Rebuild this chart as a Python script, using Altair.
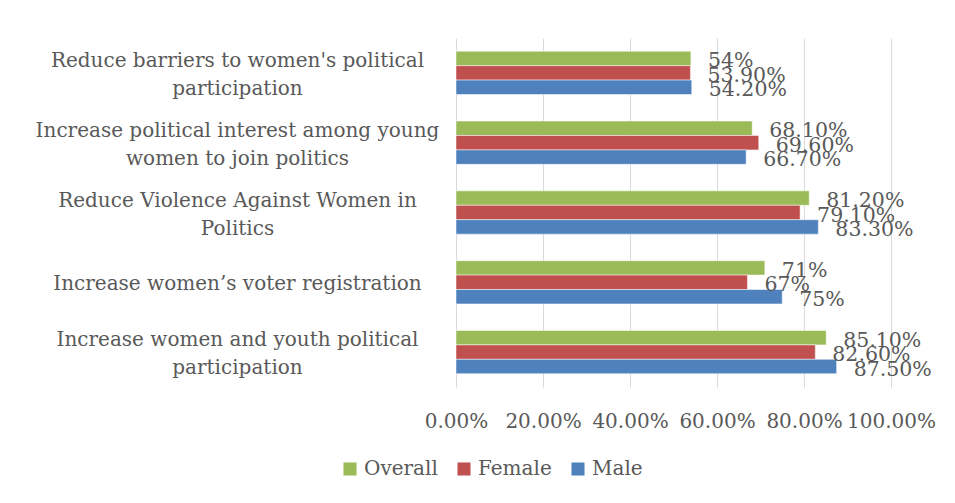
import altair as alt
import pandas as pd

categories = [
    "Reduce barriers to women's political|participation",
    "Increase political interest among young|women to join politics",
    "Reduce Violence Against Women in|Politics",
    "Increase women\u2019s voter registration",
    "Increase women and youth political|participation",
]
series = ["Overall", "Female", "Male"]
overall = [54, 68.1, 81.2, 71, 85.1]
female = [53.9, 69.6, 79.1, 67, 82.6]
male = [54.2, 66.7, 83.3, 75, 87.5]
colors = ["#9BBB59", "#C0504D", "#4F81BD"]
x_ticks = [0, 0.2, 0.4, 0.6, 0.8, 1.0]

rows = []
for s, vals in zip(series, [overall, female, male]):
    for c, v in zip(categories, vals):
        lab = f"{int(v)}%" if float(v).is_integer() else f"{v:.2f}%"
        rows.append({"category": c, "series": s, "value": v / 100, "label": lab})
df = pd.DataFrame(rows)

FONT = "DejaVu Serif"
GREY = "#595959"

base = alt.Chart(df).encode(
    y=alt.Y(
        "category:N",
        sort=categories,
        scale=alt.Scale(paddingInner=0.38, paddingOuter=0.19),
        axis=alt.Axis(
            title=None,
            domain=False,
            ticks=False,
            labelExpr="split(datum.label, '|')",
            labelLineHeight=28,
            labelFont=FONT,
            labelFontSize=20,
            labelColor=GREY,
            labelAlign="center",
            labelBaseline="middle",
            labelPadding=219,
            labelLimit=0,
            labelOffset={
                "condition": {"test": "indexof(datum.value, '|') >= 0", "value": -12},
                "value": 2,
            },
        ),
    ),
    yOffset=alt.YOffset("series:N", sort=series, scale=alt.Scale(paddingInner=0, paddingOuter=0)),
)

bars = base.mark_bar(stroke="white", strokeWidth=0.5).encode(
    x=alt.X(
        "value:Q",
        scale=alt.Scale(domain=[0, 1], nice=False),
        axis=alt.Axis(
            title=None,
            values=x_ticks,
            format=".2%",
            domain=False,
            ticks=False,
            gridColor="#D9D9D9",
            labelFont=FONT,
            labelFontSize=20,
            labelColor=GREY,
            labelPadding=24,
            labelFlush=False,
        ),
    ),
    color=alt.Color(
        "series:N",
        sort=series,
        scale=alt.Scale(domain=series, range=colors),
        legend=alt.Legend(
            title=None,
            orient="none",
            direction="horizontal",
            legendX=-116,
            legendY=421,
            symbolType="square",
            symbolSize=170,
            symbolStrokeWidth=0,
            labelFont=FONT,
            labelFontSize=20,
            labelColor=GREY,
            columnPadding=16,
            labelOffset=4,
        ),
    ),
)

texts = base.mark_text(
    align="left", baseline="middle", dx=17, dy=3, font=FONT, fontSize=20.5, color=GREY
).encode(x="value:Q", text="label:N")

chart = (
    (bars + texts)
    .properties(
        width=435,
        height=349,
        autosize=alt.AutoSizeParams(type="none"),
        padding={"left": 448, "top": 30, "right": 55, "bottom": 100},
    )
    .configure_view(stroke=None)
)

chart.save("out.html", embed_options={"renderer": "svg", "actions": False})
